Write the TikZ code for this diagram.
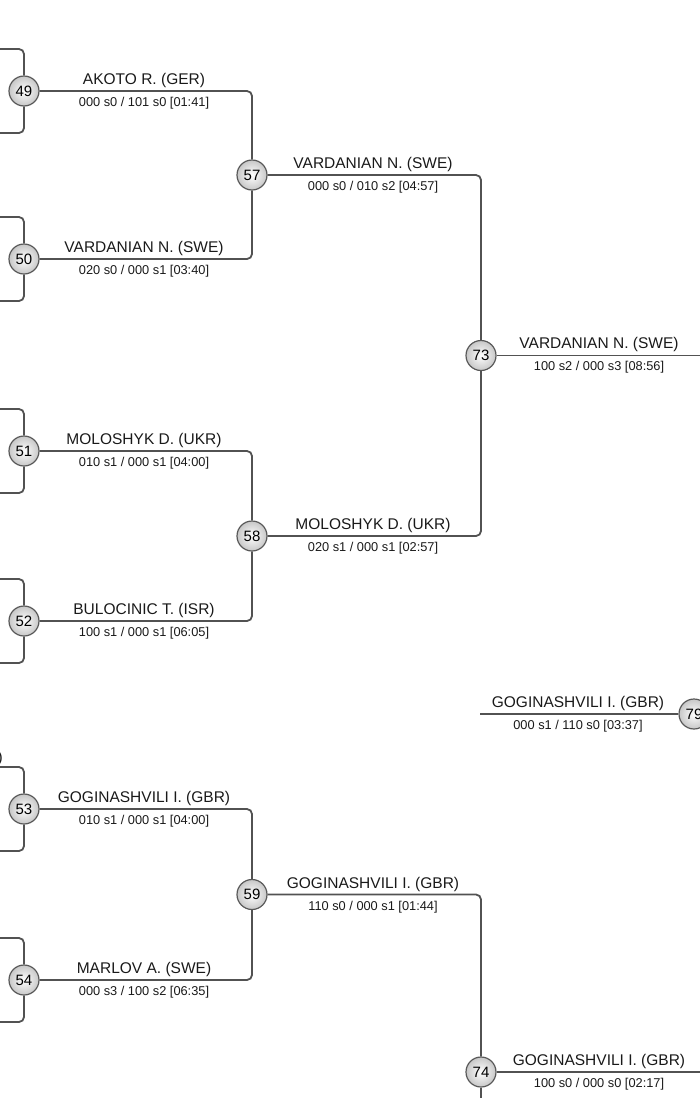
\documentclass[tikz,border=0pt]{standalone}
\usepackage{fontspec}
\setmainfont{Liberation Sans}
\begin{document}
\begin{tikzpicture}[x=1pt,y=-1pt]
\tikzset{
 match/.style={circle, draw=black!65, line width=1.2pt, minimum size=30pt, inner sep=0pt, inner color=white, outer color=black!22, font=\fontsize{15}{16}\selectfont},
 conn/.style={draw=black!68, line width=1.8pt, rounded corners=5pt},
 who/.style={anchor=base, inner sep=0pt, font=\fontsize{15.5}{18}\selectfont, text=black!90},
 res/.style={anchor=base, inner sep=0pt, font=\fontsize{12.8}{15}\selectfont, text=black!90},
}
\useasboundingbox (0,0) rectangle (700,1098);
% first column
\foreach \n/\y in {49/91,50/259,51/451,52/621,53/809,54/980}{
  \node[match] (n\n) at (24,\y) {\n};
  \coordinate (a\n) at (-10,\y-42);
  \coordinate (b\n) at (-10,\y+42);
  \draw[conn] (a\n) -| (n\n.north);
  \draw[conn] (n\n.south) |- (b\n);
}
% second column
\node[match] (n57) at (252,175) {57};
\node[match] (n58) at (252,536) {58};
\node[match] (n59) at (252,894.5) {59};
% third column
\node[match] (n73) at (481,355.5) {73};
\node[match] (n74) at (481,1072) {74};
\node[match] (n79) at (694,714) {79};
\coordinate (e73) at (710,355.5);
\coordinate (e74) at (710,1072);
\coordinate (s74) at (481,1110);
\coordinate (w79) at (480,714);
% connectors
\draw[conn] (n49.east) -| (n57.north);
\draw[conn] (n50.east) -| (n57.south);
\draw[conn] (n51.east) -| (n58.north);
\draw[conn] (n52.east) -| (n58.south);
\draw[conn] (n53.east) -| (n59.north);
\draw[conn] (n54.east) -| (n59.south);
\draw[conn] (n57.east) -| (n73.north);
\draw[conn] (n58.east) -| (n73.south);
\draw[conn] (n59.east) -| (n74.north);
\draw[conn] (n73.east) -- (e73);
\draw[conn] (n74.east) -- (e74);
\draw[conn] (n74.south) -- (s74);
\draw[conn] (w79) -- (n79.west);
% labels
\node[who] (t49) at (144,84) {AKOTO R. (GER)};
\node[res] (r49) at (144,106) {000 s0 / 101 s0 [01:41]};
\node[who] (t50) at (144,252) {VARDANIAN N. (SWE)};
\node[res] (r50) at (144,274) {020 s0 / 000 s1 [03:40]};
\node[who] (t51) at (144,444) {MOLOSHYK D. (UKR)};
\node[res] (r51) at (144,466) {010 s1 / 000 s1 [04:00]};
\node[who] (t52) at (144,614) {BULOCINIC T. (ISR)};
\node[res] (r52) at (144,636) {100 s1 / 000 s1 [06:05]};
\node[who] (t53) at (144,802) {GOGINASHVILI I. (GBR)};
\node[res] (r53) at (144,824) {010 s1 / 000 s1 [04:00]};
\node[who] (t54) at (144,973) {MARLOV A. (SWE)};
\node[res] (r54) at (144,995) {000 s3 / 100 s2 [06:35]};
\node[who] (t57) at (373,168) {VARDANIAN N. (SWE)};
\node[res] (r57) at (373,190) {000 s0 / 010 s2 [04:57]};
\node[who] (t58) at (373,529) {MOLOSHYK D. (UKR)};
\node[res] (r58) at (373,551) {020 s1 / 000 s1 [02:57]};
\node[who] (t59) at (373,888) {GOGINASHVILI I. (GBR)};
\node[res] (r59) at (373,910) {110 s0 / 000 s1 [01:44]};
\node[who] (t73) at (599,348.5) {VARDANIAN N. (SWE)};
\node[res] (r73) at (599,370.5) {100 s2 / 000 s3 [08:56]};
\node[who] (t74) at (599,1065) {GOGINASHVILI I. (GBR)};
\node[res] (r74) at (599,1087) {100 s0 / 000 s0 [02:17]};
\node[who] (t79) at (578,707) {GOGINASHVILI I. (GBR)};
\node[res] (r79) at (578,729) {000 s1 / 110 s0 [03:37]};
\node[who, anchor=base east] (tcut) at (3,762) {)};
\end{tikzpicture}
\end{document}
